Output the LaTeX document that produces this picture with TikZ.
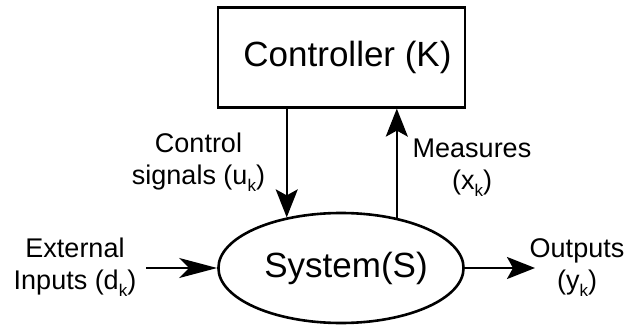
\documentclass[tikz,border=0pt]{standalone}
\usepackage{fontspec}
\setmainfont{Liberation Sans}
\usetikzlibrary{arrows.meta,shapes.geometric}
\newcommand\subk{\raisebox{-0.27em}{\fontsize{17}{17}\selectfont k}}
\tikzset{
  bigtext/.style={font=\fontsize{35}{42}\selectfont},
  lbl/.style={font=\fontsize{27}{32}\selectfont, align=center, inner sep=0pt, anchor=base},
  arr/.style={line width=2.4pt, -{Stealth[length=28pt,width=22pt,inset=6pt]}},
  arrin/.style={line width=2.4pt, -{Stealth[length=38pt,width=20pt,inset=10pt]}},
}
\begin{document}
\begin{tikzpicture}[x=1pt,y=1pt]
\useasboundingbox (0,0) rectangle (627,325);
% Controller box
\node[draw, line width=2.2pt, minimum width=247pt, minimum height=100pt, inner sep=0pt, bigtext]
  (K) at (341.5,267.5) {\hspace*{12pt}Controller (K)};
% System ellipse
\node[draw, ellipse, line width=2.6pt, minimum width=231pt, minimum height=110pt, inner sep=0pt, bigtext]
  (S) at (341,57) {\hspace*{10pt}System(S)};
% connectors
\draw[arr] (K.south -| S.137) -- (S.137);
\draw[arr] (S.42) -- (K.south -| S.42);
\coordinate (din) at (146,57);
\coordinate (yout) at (535,57);
\draw[arrin] (din) -- (S.west);
\draw[arr] (S.east) -- (yout);
% labels
\node[lbl] (ext) at (75,36) {External\\Inputs (d\subk)};
\node[lbl] (out) at (577,36) {Outputs\\(y\subk)};
\node[lbl] (ctl) at (198.5,141) {Control\\signals (u\subk)};
\node[lbl] (mea) at (472,136) {Measures\\(x\subk)};
\end{tikzpicture}
\end{document}
